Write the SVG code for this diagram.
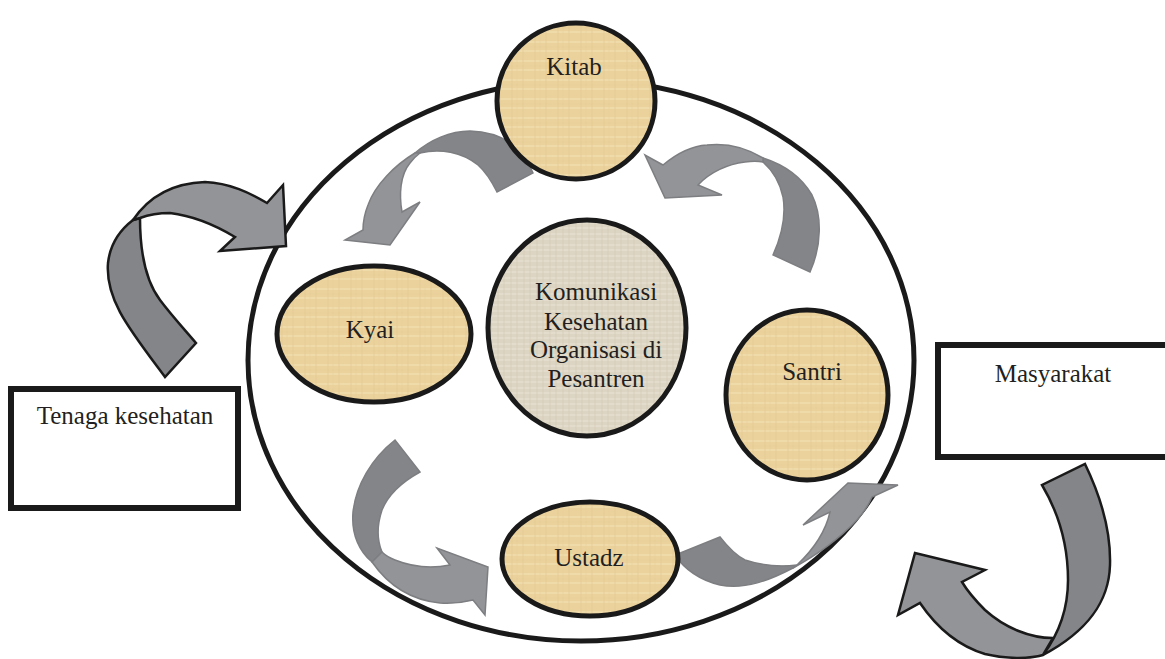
<svg xmlns="http://www.w3.org/2000/svg" width="1165" height="659" viewBox="0 0 1165 659">
<defs>
<pattern id="papyrus" width="23" height="19" patternUnits="userSpaceOnUse">
<rect width="23" height="19" fill="#EBD29D"/>
<path d="M0 4H23M0 13H23" stroke="#F4E3BA" stroke-width="1.4" opacity="0.6"/>
<path d="M6 0V19M17 0V19" stroke="#DCC088" stroke-width="1" opacity="0.45"/>
<path d="M0 9H23M11 0V19" stroke="#E2C98F" stroke-width="0.7" opacity="0.5"/>
</pattern>
<pattern id="linen" width="13" height="11" patternUnits="userSpaceOnUse">
<rect width="13" height="11" fill="#DDD5C3"/>
<path d="M0 3H13M0 8H13" stroke="#EEE9DE" stroke-width="1.1" opacity="0.7"/>
<path d="M4 0V11M10 0V11" stroke="#CBC1AB" stroke-width="0.8" opacity="0.6"/>
</pattern>
</defs>
<style>
.node{stroke:#1a1a1a;stroke-width:5}
.tan{fill:url(#papyrus)}
.lin{fill:url(#linen)}
.box{fill:#fff;stroke:#1a1a1a;stroke-width:6}
.lbl{font-family:"Liberation Serif","Times New Roman",serif;font-size:25px;fill:#231f20;text-anchor:middle}
.lt{fill:#939497}
.dk{fill:#848588}
.out{stroke:#1a1a1a;stroke-width:2.5;stroke-linejoin:miter}
.in{stroke:#7d7e81;stroke-width:1.5;stroke-linejoin:miter}
</style>
<rect width="1165" height="659" fill="#fff"/>
<g id="frame">
<ellipse cx="581" cy="360.5" rx="333" ry="280.5" fill="#fff" stroke="#1a1a1a" stroke-width="5"/>
</g>
<g id="connectors">
<g id="arrow-tenaga">
<path class="dk out" d="M165,377 C130,330 105,300 108,263 C110,245 120,230 133,220 L140,218 C140,250 145,280 160,300 C172,316 185,330 196,343 Z"/>
<path class="lt out" d="M133,220 C150,195 175,183 205,182 C230,183 250,193 267,203 L283,185 L286,246 L220,251 L235,237 C215,225 195,216 170,213 C158,213 148,215 140,218 Z"/>
</g>
<g id="arrow-kitab-kyai">
<path class="dk in" d="M533,173 C522,145 500,132 470,131 C450,131 430,140 415,153 L420,153 C440,148 462,152 478,165 C487,173 492,182 497,192 Z"/>
<path class="lt in" d="M415,153 C395,165 375,185 368,205 C364,215 363,225 363,230 L345,240 L390,245 L420,202 L402,212 C399,195 400,175 410,163 C413,159 416,156 420,153 Z"/>
</g>
<g id="arrow-santri-kitab">
<path class="dk in" d="M810,272 C822,245 822,215 812,195 C802,178 785,165 763,158 L763,162 C772,170 780,183 783,197 C786,215 782,235 773,255 Z"/>
<path class="lt in" d="M763,158 C745,147 725,143 707,145 C690,146 675,155 663,165 L645,155 L665,198 L722,195 L698,185 C710,172 728,164 745,162 C752,161 758,161 763,162 Z"/>
</g>
<g id="arrow-kyai-ustadz">
<path class="dk in" d="M395,440 C372,458 356,485 353,512 C351,535 360,552 372,562 L382,552 C377,540 377,525 382,510 C388,495 400,483 420,472 Z"/>
<path class="lt in" d="M372,562 C388,585 410,600 440,603 C455,604 465,602 473,600 L485,615 L488,567 L437,548 L450,565 C430,569 410,566 395,560 C390,558 385,555 382,552 Z"/>
</g>
<g id="arrow-ustadz-santri">
<path class="dk in" d="M675,555 C685,570 700,580 720,585 C745,590 770,580 793,568 L797,565 C780,567 760,565 745,560 C735,555 727,546 720,537 Z"/>
<path class="lt in" d="M793,568 C815,556 840,538 857,520 C864,512 869,504 872,497 L898,485 L848,483 L803,525 L830,512 C826,530 815,548 797,565 Z"/>
</g>
<g id="arrow-masyarakat">
<path class="dk out" d="M1085,464 C1100,495 1111,530 1110,565 C1109,600 1090,630 1043,655 C1058,635 1068,610 1068,580 C1068,545 1058,512 1042,485 Z"/>
<path class="lt out" d="M1053,638 C1030,638 1005,628 985,610 C975,600 968,592 962,582 L985,570 L915,553 L898,615 L920,603 C935,625 955,645 985,654 C1005,659 1030,659 1043,655 Z"/>
</g>
</g>
<g id="node-kitab">
<ellipse class="node tan" cx="576" cy="101" rx="79" ry="78"/>
<text class="lbl" x="574" y="75">Kitab</text>
</g>
<g id="node-kyai">
<ellipse class="node tan" cx="374" cy="334" rx="97" ry="68"/>
<text class="lbl" x="370" y="338">Kyai</text>
</g>
<g id="node-center">
<ellipse class="node lin" cx="587" cy="328" rx="99" ry="108"/>
<text class="lbl" x="596" y="300">Komunikasi</text>
<text class="lbl" x="596" y="330">Kesehatan</text>
<text class="lbl" x="596" y="358">Organisasi di</text>
<text class="lbl" x="596" y="387">Pesantren</text>
</g>
<g id="node-santri">
<ellipse class="node tan" cx="807" cy="395" rx="81" ry="85"/>
<text class="lbl" x="812" y="380">Santri</text>
</g>
<g id="node-ustadz">
<ellipse class="node tan" cx="590" cy="559" rx="88" ry="57"/>
<text class="lbl" x="589" y="566">Ustadz</text>
</g>
<g id="node-tenaga">
<rect class="box" x="11" y="389" width="227" height="119"/>
<text class="lbl" x="125" y="424">Tenaga kesehatan</text>
</g>
<g id="node-masyarakat">
<rect class="box" x="938" y="345" width="240" height="112"/>
<text class="lbl" x="1053" y="382">Masyarakat</text>
</g>
</svg>
